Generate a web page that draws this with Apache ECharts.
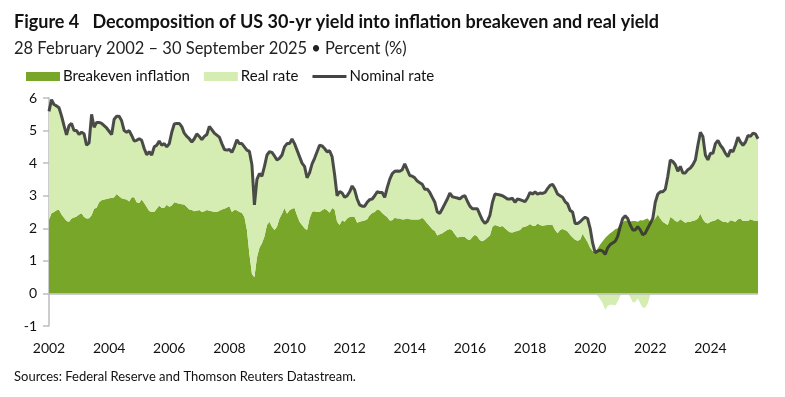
<!DOCTYPE html>
<html>
<head>
<meta charset="utf-8">
<script src="https://cdn.jsdelivr.net/npm/echarts@6/dist/echarts.min.js"></script>
<style>
  html, body { margin: 0; padding: 0; background: #fff; }
  #chart { width: 785px; height: 397px; }
</style>
</head>
<body>
<div id="chart"></div>
<script>
var nominalRate = [
  5.59, 5.95, 5.80, 5.76, 5.70, 5.45, 5.15, 4.87, 5.15, 5.22, 5.00,
  5.00, 4.88, 4.95, 4.90, 4.55, 4.62, 5.50, 5.10, 5.25, 5.25, 5.22, 5.15,
  5.08, 4.98, 4.88, 5.35, 5.44, 5.44, 5.30, 5.00, 4.95, 5.00, 4.85, 4.68,
  4.70, 4.75, 4.70, 4.45, 4.26, 4.35, 4.25, 4.50, 4.55, 4.68, 4.55, 4.60,
  4.50, 4.60, 4.95, 5.20, 5.22, 5.22, 5.12, 4.92, 4.82, 4.75, 4.65, 4.75,
  4.90, 4.82, 4.72, 4.82, 4.88, 5.13, 5.03, 4.92, 4.86, 4.80, 4.60, 4.42,
  4.40, 4.42, 4.33, 4.50, 4.72, 4.60, 4.60, 4.50, 4.40, 4.36, 3.95, 2.72,
  3.50, 3.68, 3.60, 3.90, 4.25, 4.35, 4.33, 4.22, 4.10, 4.15, 4.25, 4.50,
  4.60, 4.60, 4.74, 4.60, 4.40, 4.20, 4.00, 3.90, 3.55, 3.70, 3.98, 4.15,
  4.35, 4.55, 4.53, 4.45, 4.35, 4.38, 4.20, 3.65, 3.00, 3.13, 3.08, 2.95,
  3.00, 3.12, 3.30, 3.18, 2.90, 2.72, 2.68, 2.68, 2.80, 2.88, 2.90, 3.00,
  3.12, 3.10, 3.10, 2.95, 3.25, 3.50, 3.68, 3.75, 3.76, 3.75, 3.80, 3.98,
  3.80, 3.62, 3.60, 3.55, 3.45, 3.40, 3.35, 3.20, 3.20, 3.10, 2.95, 2.80,
  2.50, 2.46, 2.60, 2.75, 2.90, 3.08, 2.97, 2.95, 2.93, 2.90, 2.97, 3.00,
  2.83, 2.68, 2.60, 2.60, 2.60, 2.42, 2.25, 2.15, 2.22, 2.40, 2.80, 3.05,
  3.04, 3.02, 3.00, 2.95, 2.90, 2.90, 2.92, 2.80, 2.90, 2.88, 2.85, 2.82,
  2.93, 3.10, 3.05, 3.12, 3.05, 3.08, 3.07, 3.10, 3.22, 3.32, 3.35, 3.22,
  3.05, 3.00, 2.95, 2.82, 2.75, 2.55, 2.50, 2.15, 2.15, 2.20, 2.28, 2.34,
  2.30, 2.00, 1.55, 1.25, 1.30, 1.33, 1.30, 1.20, 1.40, 1.50, 1.55, 1.60,
  1.75, 2.05, 2.30, 2.38, 2.30, 2.10, 1.95, 1.95, 2.05, 1.95, 1.80, 1.85,
  2.00, 2.15, 2.30, 2.80, 3.05, 3.12, 3.12, 3.20, 3.60, 4.10, 4.05, 3.95,
  3.75, 3.90, 3.70, 3.70, 3.80, 3.85, 3.95, 4.10, 4.55, 4.95, 4.82, 4.25,
  4.10, 4.30, 4.30, 4.60, 4.70, 4.55, 4.45, 4.30, 4.20, 4.40, 4.35, 4.55,
  4.80, 4.65, 4.55, 4.65, 4.85, 4.82, 4.92, 4.90, 4.75
];
var breakeven = [
  2.26, 2.46, 2.50, 2.55, 2.57, 2.42, 2.32, 2.22, 2.20, 2.30, 2.33,
  2.36, 2.42, 2.46, 2.35, 2.30, 2.31, 2.40, 2.60, 2.63, 2.80, 2.86, 2.88,
  2.90, 2.92, 2.93, 2.95, 3.05, 2.98, 2.92, 2.90, 2.88, 2.82, 2.95, 2.95,
  2.80, 2.78, 2.88, 2.78, 2.65, 2.53, 2.50, 2.50, 2.60, 2.70, 2.62, 2.63,
  2.72, 2.66, 2.70, 2.80, 2.78, 2.75, 2.74, 2.73, 2.65, 2.58, 2.56, 2.52,
  2.54, 2.56, 2.50, 2.52, 2.56, 2.54, 2.52, 2.50, 2.50, 2.54, 2.58, 2.60,
  2.64, 2.68, 2.50, 2.56, 2.55, 2.50, 2.48, 2.35, 1.95, 1.20, 0.60, 0.50,
  1.10, 1.40, 1.54, 1.75, 2.10, 2.20, 2.05, 1.95, 2.05, 2.30, 2.45, 2.62,
  2.45, 2.55, 2.60, 2.62, 2.40, 2.20, 2.10, 2.00, 1.95, 2.30, 2.50, 2.52,
  2.50, 2.50, 2.55, 2.60, 2.55, 2.48, 2.62, 2.58, 2.20, 2.10, 2.25, 2.20,
  2.30, 2.35, 2.36, 2.35, 2.17, 2.20, 2.22, 2.24, 2.28, 2.40, 2.47, 2.50,
  2.58, 2.55, 2.47, 2.40, 2.35, 2.24, 2.25, 2.32, 2.30, 2.30, 2.27, 2.28,
  2.30, 2.28, 2.27, 2.27, 2.27, 2.28, 2.32, 2.25, 2.15, 2.06, 1.97, 1.92,
  1.78, 1.82, 1.85, 1.90, 1.95, 1.98, 1.93, 1.82, 1.72, 1.73, 1.75, 1.73,
  1.66, 1.64, 1.73, 1.80, 1.75, 1.63, 1.60, 1.65, 1.72, 1.78, 2.05, 2.10,
  2.08, 2.05, 2.07, 2.00, 1.93, 1.88, 1.87, 1.90, 1.92, 1.95, 2.03, 2.05,
  2.08, 2.13, 2.08, 2.07, 2.15, 2.10, 2.08, 2.09, 2.10, 2.10, 2.10, 1.95,
  1.85, 1.95, 1.98, 1.95, 1.90, 1.80, 1.72, 1.65, 1.62, 1.65, 1.83, 1.70,
  1.57, 1.40, 1.30, 1.25, 1.38, 1.50, 1.60, 1.70, 1.78, 1.85, 1.90, 1.97,
  2.00, 2.12, 2.20, 2.23, 2.25, 2.21, 2.22, 2.22, 2.20, 2.25, 2.24, 2.28,
  2.30, 2.20, 2.22, 2.30, 2.42, 2.30, 2.20, 2.15, 2.10, 2.35, 2.30, 2.22,
  2.20, 2.28, 2.22, 2.17, 2.20, 2.20, 2.23, 2.25, 2.30, 2.45, 2.28, 2.18,
  2.15, 2.20, 2.22, 2.25, 2.30, 2.25, 2.20, 2.20, 2.17, 2.25, 2.22, 2.20,
  2.28, 2.30, 2.22, 2.22, 2.22, 2.28, 2.25, 2.22, 2.22
];
var yTicks = { min: -1, max: 6, step: 1 };

// month labels
var months = [];
for (var y = 2002; y <= 2025; y++) {
  for (var m = 1; m <= 12; m++) {
    if (y === 2002 && m < 2) continue;
    if (y === 2025 && m > 9) break;
    months.push(y + "-" + (m < 10 ? "0" + m : m));
  }
}

// real rate = nominal minus breakeven; positive part sits on top of the
// breakeven area, negative part hangs below zero
var realRate = nominalRate.map(function (v, i) {
  return Math.round((v - breakeven[i]) * 100) / 100;
});
var realPos = realRate.map(function (v) { return v > 0 ? v : 0; });
var realNeg = realRate.map(function (v) { return v < 0 ? v : 0; });

var FONT = "Lato";
var DARK = "#78a628";
var LIGHT = "#d5ecb2";
var chart = echarts.init(document.getElementById("chart"), null, { renderer: "canvas" });

chart.setOption({
  animation: false,
  textStyle: { fontFamily: FONT },
  title: {
    text: "Figure 4   Decomposition of US 30-yr yield into inflation breakeven and real yield",
    subtext: "28 February 2002 \u2013 30 September 2025 \u2022 Percent (%)",
    left: 14,
    top: 13,
    padding: 0,
    itemGap: 9,
    textStyle: { fontFamily: FONT, fontSize: 18, fontWeight: "bold", color: "#111" },
    subtextStyle: { fontFamily: FONT, fontSize: 16.5, color: "#222" }
  },
  legend: {
    left: 26,
    top: 69,
    padding: 0,
    itemWidth: 34,
    itemHeight: 9,
    itemGap: 14,
    textStyle: { fontFamily: FONT, fontSize: 15, color: "#111", padding: [0, 0, 0, -2] },
    data: [
      { name: "Breakeven inflation", icon: "rect" },
      { name: "Real rate", icon: "rect" },
      { name: "Nominal rate", icon: "path://M0,0h34v3h-34z" }
    ]
  },
  grid: { left: 49, right: 27, top: 98, bottom: 71 },
  xAxis: {
    type: "category",
    data: months,
    boundaryGap: false,
    axisLine: { show: false, onZero: false },
    axisTick: { show: false },
    axisLabel: {
      interval: 23,
      margin: 15,
      fontSize: 14,
      color: "#111",
      formatter: function (v) { return v.slice(0, 4); }
    },
    splitLine: { show: false }
  },
  yAxis: {
    type: "value",
    min: yTicks.min,
    max: yTicks.max,
    interval: yTicks.step,
    axisLine: { show: true, lineStyle: { color: "#bdbdbd", width: 1.5 } },
    axisTick: { show: true, length: 6, lineStyle: { color: "#bdbdbd", width: 1.5 } },
    axisLabel: { fontSize: 14, color: "#111", margin: 12 },
    splitLine: { show: false }
  },
  series: [
    {
      name: "Breakeven inflation",
      type: "line",
      stack: "yield",
      data: breakeven,
      showSymbol: false,
      symbol: "none",
      lineStyle: { width: 0 },
      itemStyle: { color: DARK },
      areaStyle: { color: DARK, opacity: 1 },
      z: 1
    },
    {
      name: "Real rate",
      type: "line",
      stack: "yield",
      data: realPos,
      showSymbol: false,
      symbol: "none",
      lineStyle: { width: 0 },
      itemStyle: { color: LIGHT },
      areaStyle: { color: LIGHT, opacity: 1 },
      z: 1
    },
    {
      name: "Real rate",
      type: "line",
      data: realNeg,
      showSymbol: false,
      symbol: "none",
      lineStyle: { width: 0 },
      itemStyle: { color: LIGHT },
      areaStyle: { color: LIGHT, opacity: 1 },
      z: 1,
      markLine: {
        silent: true,
        symbol: "none",
        label: { show: false },
        lineStyle: { color: "#bdbdbd", width: 1.5, type: "solid" },
        data: [{ yAxis: 0 }]
      }
    },
    {
      name: "Nominal rate",
      type: "line",
      data: nominalRate,
      showSymbol: false,
      symbol: "none",
      lineStyle: { color: "#333", width: 3, opacity: 0.88 },
      itemStyle: { color: "#444" },
      z: 5
    }
  ],
  graphic: [
    {
      type: "text",
      left: 14,
      top: 370,
      style: {
        text: "Sources: Federal Reserve and Thomson Reuters Datastream.",
        font: "13px " + FONT,
        fill: "#111"
      }
    }
  ]
});
</script>
</body>
</html>
